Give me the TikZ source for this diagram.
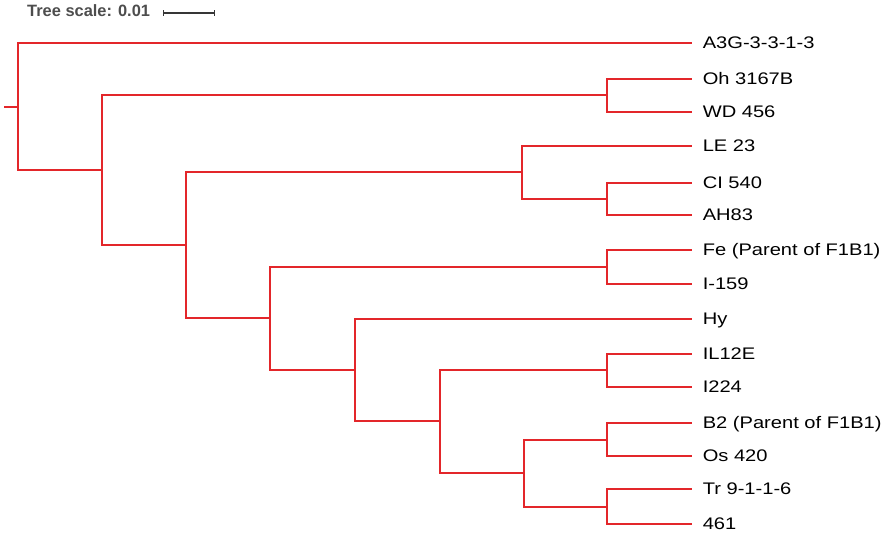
\documentclass[tikz,border=0pt]{standalone}
\usepackage{fontspec}
\setmainfont{Liberation Sans}
\newfontfamily\leaffont[FakeStretch=1.2]{Liberation Sans}
\usepackage{xcolor}
\usepackage{tikz}
\usetikzlibrary{positioning}
\usetikzlibrary{arrows.meta}
\definecolor{treered}{HTML}{E3262A}
\definecolor{scalegray}{HTML}{4D4D4D}

\begin{document}
\begin{tikzpicture}[
	x=0.03cm, y=-0.03cm,
	font=\leaffont\fontsize{14.3}{16}\selectfont
]
\tikzset{
    branch/.style = {draw=treered, line width=1.9pt},
    leaf/.style = {anchor=west, inner xsep=9pt, inner ysep=0pt, text height=10pt, text depth=0pt},
}
\useasboundingbox (0,0) rectangle (886,539);

% scale
\node[anchor=base west, inner sep=0pt, text=scalegray,
      font=\rmfamily\bfseries\fontsize{14}{16}\selectfont] (scaletxt) at (27,17) {Tree scale: 0.01};
\coordinate (sbl) at (163,13);
\coordinate (sbr) at (215,13);
\draw[scalegray!70!black, line width=0.9pt, {Bar[width=5pt]}-{Bar[width=5pt]}] (sbl) -- (sbr);
\fill[scalegray!70!black] (189,13) circle (1pt);

% leaves
\node[leaf] (A3G) at (692,43) {A3G-3-3-1-3};
\node[leaf] (Oh) at (692,79) {Oh 3167B};
\node[leaf] (WD) at (692,112) {WD 456};
\node[leaf] (LE) at (692,146) {LE 23};
\node[leaf] (CI) at (692,183) {CI 540};
\node[leaf] (AH) at (692,215) {AH83};
\node[leaf] (Fe) at (692,250) {Fe (Parent of F1B1)};
\node[leaf] (I159) at (692,284) {I-159};
\node[leaf] (Hy) at (692,319) {Hy};
\node[leaf] (IL) at (692,354) {IL12E};
\node[leaf] (I224) at (692,387) {I224};
\node[leaf] (B2) at (692,423) {B2 (Parent of F1B1)};
\node[leaf] (Os) at (692,456) {Os 420};
\node[leaf] (Tr) at (692,489) {Tr 9-1-1-6};
\node[leaf] (T461) at (692,524) {461};

% internal nodes
\coordinate (stub) at (4,107);
\coordinate (root) at (18,107);
\coordinate (n1) at (102,170);
\coordinate (n2) at (186,245);
\coordinate (n3) at (270,318);
\coordinate (n4) at (355,370);
\coordinate (n5) at (440,421);
\coordinate (n6) at (524,473);
\coordinate (ohwd) at (607,95);
\coordinate (lec) at (522,172);
\coordinate (ciah) at (607,199);
\coordinate (fei) at (607,267);
\coordinate (ili) at (607,370);
\coordinate (bos) at (607,440);
\coordinate (trl) at (607,507);

% branches
\draw[branch] (stub) -- (root);
\draw[branch] (root) |- (A3G.west);
\draw[branch] (root) |- (n1);
\draw[branch] (n1) |- (ohwd);
\draw[branch] (n1) |- (n2);
\draw[branch] (ohwd) |- (Oh.west);
\draw[branch] (ohwd) |- (WD.west);
\draw[branch] (n2) |- (lec);
\draw[branch] (n2) |- (n3);
\draw[branch] (lec) |- (LE.west);
\draw[branch] (lec) |- (ciah);
\draw[branch] (ciah) |- (CI.west);
\draw[branch] (ciah) |- (AH.west);
\draw[branch] (n3) |- (fei);
\draw[branch] (n3) |- (n4);
\draw[branch] (fei) |- (Fe.west);
\draw[branch] (fei) |- (I159.west);
\draw[branch] (n4) |- (Hy.west);
\draw[branch] (n4) |- (n5);
\draw[branch] (n5) |- (ili);
\draw[branch] (n5) |- (n6);
\draw[branch] (ili) |- (IL.west);
\draw[branch] (ili) |- (I224.west);
\draw[branch] (n6) |- (bos);
\draw[branch] (n6) |- (trl);
\draw[branch] (bos) |- (B2.west);
\draw[branch] (bos) |- (Os.west);
\draw[branch] (trl) |- (Tr.west);
\draw[branch] (trl) |- (T461.west);
\end{tikzpicture}
\end{document}
